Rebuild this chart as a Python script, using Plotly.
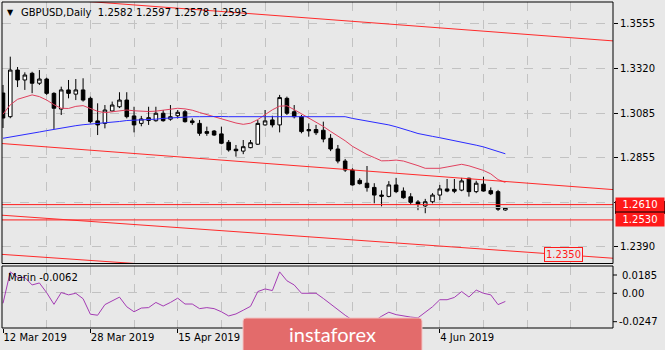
import plotly.graph_objects as go

# ---- data ---------------------------------------------------------------
dates = [
    "2019-03-12", "2019-03-13", "2019-03-14", "2019-03-15", "2019-03-18", "2019-03-19",
    "2019-03-20", "2019-03-21", "2019-03-22", "2019-03-25", "2019-03-26", "2019-03-27",
    "2019-03-28", "2019-03-29", "2019-04-01", "2019-04-02", "2019-04-03", "2019-04-04",
    "2019-04-05", "2019-04-08", "2019-04-09", "2019-04-10", "2019-04-11", "2019-04-12",
    "2019-04-15", "2019-04-16", "2019-04-17", "2019-04-18", "2019-04-19", "2019-04-22",
    "2019-04-23", "2019-04-24", "2019-04-25", "2019-04-26", "2019-04-29", "2019-04-30",
    "2019-05-01", "2019-05-02", "2019-05-03", "2019-05-06", "2019-05-07", "2019-05-08",
    "2019-05-09", "2019-05-10", "2019-05-13", "2019-05-14", "2019-05-15", "2019-05-16",
    "2019-05-17", "2019-05-20", "2019-05-21", "2019-05-22", "2019-05-23", "2019-05-24",
    "2019-05-27", "2019-05-28", "2019-05-29", "2019-05-30", "2019-05-31", "2019-06-03",
    "2019-06-04", "2019-06-05", "2019-06-06", "2019-06-07", "2019-06-10", "2019-06-11",
    "2019-06-12", "2019-06-13", "2019-06-14", "2019-06-17",
]

opens = [1.3194, 1.3070, 1.3314, 1.3262, 1.3297, 1.3245, 1.3267, 1.3192, 1.3110, 1.3210,
         1.3188, 1.3210, 1.3166, 1.3048, 1.3035, 1.3100, 1.3122, 1.3157, 1.3074, 1.3035,
         1.3050, 1.3049, 1.3088, 1.3057, 1.3075, 1.3096, 1.3048, 1.3035, 1.2992, 1.2995,
         1.2980, 1.2936, 1.2900, 1.2890, 1.2908, 1.2926, 1.3027, 1.3053, 1.3027, 1.3166,
         1.3096, 1.3070, 1.3003, 1.3003, 1.2999, 1.2957, 1.2901, 1.2838, 1.2791, 1.2737,
         1.2722, 1.2700, 1.2660, 1.2653, 1.2713, 1.2681, 1.2651, 1.2624, 1.2603, 1.2625,
         1.2660, 1.2692, 1.2690, 1.2686, 1.2748, 1.2678, 1.2717, 1.2683, 1.2678, 1.2582]
highs = [1.3236, 1.3384, 1.3330, 1.3302, 1.3305, 1.3314, 1.3274, 1.3198, 1.3227, 1.3262,
         1.3267, 1.3271, 1.3175, 1.3140, 1.3131, 1.3149, 1.3198, 1.3198, 1.3122, 1.3074,
         1.3122, 1.3122, 1.3105, 1.3131, 1.3105, 1.3105, 1.3061, 1.3053, 1.3018, 1.3000,
         1.3018, 1.2948, 1.2922, 1.2948, 1.2948, 1.3053, 1.3105, 1.3075, 1.3184, 1.3175,
         1.3131, 1.3079, 1.3035, 1.3027, 1.3044, 1.2979, 1.2922, 1.2849, 1.2800, 1.2748,
         1.2812, 1.2722, 1.2685, 1.2733, 1.2750, 1.2700, 1.2670, 1.2634, 1.2640, 1.2670,
         1.2713, 1.2744, 1.2744, 1.2750, 1.2751, 1.2735, 1.2756, 1.2700, 1.2687, 1.2597]
lows = [1.3011, 1.3062, 1.3225, 1.3210, 1.3193, 1.3236, 1.3184, 1.3006, 1.3079, 1.3166,
        1.3157, 1.3149, 1.3035, 1.2974, 1.3009, 1.3095, 1.3115, 1.3061, 1.2988, 1.3020,
        1.3027, 1.3044, 1.3044, 1.3049, 1.3061, 1.3039, 1.3027, 1.2970, 1.2970, 1.2970,
        1.2926, 1.2887, 1.2861, 1.2874, 1.2905, 1.2922, 1.3023, 1.3014, 1.2988, 1.3079,
        1.3061, 1.2983, 1.2966, 1.2974, 1.2936, 1.2890, 1.2826, 1.2781, 1.2710, 1.2715,
        1.2678, 1.2617, 1.2601, 1.2648, 1.2670, 1.2641, 1.2610, 1.2581, 1.2565, 1.2617,
        1.2634, 1.2675, 1.2670, 1.2680, 1.2652, 1.2670, 1.2678, 1.2660, 1.2577, 1.2578]
closes = [1.3063, 1.3314, 1.3262, 1.3288, 1.3245, 1.3267, 1.3192, 1.3114, 1.3210, 1.3192,
          1.3210, 1.3157, 1.3044, 1.3027, 1.3105, 1.3131, 1.3157, 1.3070, 1.3027, 1.3058,
          1.3065, 1.3088, 1.3049, 1.3070, 1.3093, 1.3044, 1.3039, 1.2983, 1.2983, 1.2974,
          1.2931, 1.2896, 1.2892, 1.2913, 1.2934, 1.3035, 1.3048, 1.3027, 1.3170, 1.3088,
          1.3070, 1.2992, 1.2996, 1.2986, 1.2953, 1.2901, 1.2838, 1.2791, 1.2713, 1.2720,
          1.2699, 1.2660, 1.2654, 1.2713, 1.2678, 1.2646, 1.2622, 1.2613, 1.2625, 1.2660,
          1.2692, 1.2681, 1.2680, 1.2734, 1.2678, 1.2722, 1.2681, 1.2667, 1.2586, 1.2595]

ma_fast = [1.3083, 1.3132, 1.3161, 1.3174, 1.3184, 1.3175, 1.3157, 1.3133, 1.3114, 1.3113,
           1.3124, 1.3128, 1.3115, 1.3098, 1.3091, 1.3095, 1.3101, 1.3105, 1.3101, 1.3099,
           1.3097, 1.3099, 1.3104, 1.3109, 1.3114, 1.3111, 1.3104, 1.3092, 1.3081, 1.3071,
           1.3057, 1.3046, 1.3037, 1.3030, 1.3036, 1.3055, 1.3081, 1.3106, 1.3125, 1.3127,
           1.3107, 1.3086, 1.3065, 1.3044, 1.3019, 1.2993, 1.2970, 1.2944, 1.2915, 1.2893,
           1.2872, 1.2856, 1.2839, 1.2840, 1.2843, 1.2838, 1.2828, 1.2814, 1.2800, 1.2800,
           1.2800, 1.2807, 1.2814, 1.2821, 1.2813, 1.2803, 1.2789, 1.2771, 1.2741, 1.2726]
ma_slow = [1.2957, 1.2963, 1.2970, 1.2976, 1.2983, 1.2990, 1.2997, 1.3004, 1.3010, 1.3017,
           1.3023, 1.3028, 1.3031, 1.3035, 1.3037, 1.3040, 1.3045, 1.3050, 1.3051, 1.3053,
           1.3055, 1.3057, 1.3061, 1.3064, 1.3067, 1.3069, 1.3070, 1.3070, 1.3071, 1.3071,
           1.3071, 1.3070, 1.3070, 1.3070, 1.3069, 1.3069, 1.3070, 1.3071, 1.3072, 1.3072,
           1.3071, 1.3071, 1.3070, 1.3070, 1.3070, 1.3070, 1.3071, 1.3070, 1.3061, 1.3054,
           1.3048, 1.3041, 1.3036, 1.3027, 1.3017, 1.3007, 1.2994, 1.2982, 1.2973, 1.2967,
           1.2960, 1.2953, 1.2945, 1.2938, 1.2929, 1.2921, 1.2912, 1.2901, 1.2889, 1.2876]

marin = [-0.0075, 0.0144, 0.0105, 0.0105, 0.0053, 0.0067, -0.0001, -0.0082, 0.0000, -0.0016,
         -0.0005, -0.0043, -0.0151, -0.0158, -0.0084, -0.0058, -0.0032, -0.0099, -0.0134, -0.0108,
         -0.0105, -0.0069, -0.0094, -0.0069, -0.0039, -0.0080, -0.0080, -0.0112, -0.0105, -0.0112,
         -0.0134, -0.0163, -0.0149, -0.0123, -0.0096, 0.0007, 0.0025, 0.0014, 0.0144, 0.0082,
         0.0053, -0.0005, -0.0005, -0.0005, -0.0041, -0.0079, -0.0123, -0.0158, -0.0192, -0.0219,
         -0.0226, -0.0199, -0.0165, -0.0137, -0.0154, -0.0165, -0.0171, -0.0176, -0.0137, -0.0099,
         -0.0050, -0.0050, -0.0034, 0.0007, -0.0031, 0.0017, -0.0005, -0.0016, -0.0084, -0.0062]

tick_dates = ["2019-03-12", "2019-03-28", "2019-04-15", "2019-06-04"]
tick_labels = ["12 Mar 2019", "28 Mar 2019", "15 Apr 2019", "4 Jun 2019"]
price_ticks = [1.3555, 1.3320, 1.3085, 1.2855, 1.2620, 1.2390]
price_tick_text = ["1.3555", "1.3320", "1.3085", "1.2855", "", "1.2390"]
marin_ticks = ["0.0185", "0.00", "-0.0247"]

levels = [1.2610, 1.2530]
bid = 1.2595
# trend lines: (start bar, start price, end bar, end price)
trend_lines = [
    (-1, 1.3709, 84, 1.3466),
    (-1, 1.2932, 84, 1.2688),
    (-1, 1.2557, 84, 1.2329),
    (-1, 1.2352, 30, 1.2271),
]
channel_label_bar = 77
channel_label_price = 1.2350

# ---- styling ------------------------------------------------------------
BG = "#e8e8e8"
GRID = "#c2c2c2"
FONT = "DejaVu Sans"
W, H = 665, 350
ML, MR, MT, MB = 2, 52, 2, 22
PW, PH = W - ML - MR, H - MT - MB
Y_RANGE = [1.2302, 1.3670]
MAIN_PX = 263.5 - 2  # pixel height of the price pane


def px_x(px):
    return (px - ML) / PW


def px_y(py):
    return (H - MB - py) / PH


main_dom = [px_y(263.5), 1.0]
ind_dom = [0.0, px_y(266)]
price_per_px = (Y_RANGE[1] - Y_RANGE[0]) / MAIN_PX

xs = list(range(len(dates)))
tickvals = [dates.index(d) for d in tick_dates]

fig = go.Figure()

# horizontal support levels and bid line
for lv in levels:
    fig.add_trace(go.Scatter(x=[-5, 90], y=[lv, lv], mode="lines",
                             line=dict(color="#ff1a1a", width=1),
                             hoverinfo="skip", showlegend=False))
fig.add_trace(go.Scatter(x=[-5, 90], y=[bid, bid], mode="lines",
                         line=dict(color="#bdbdbd", width=1),
                         hoverinfo="skip", showlegend=False))

# candles
fig.add_trace(go.Candlestick(
    x=xs, open=opens, high=highs, low=lows, close=closes,
    increasing=dict(line=dict(color="black", width=1), fillcolor="white"),
    decreasing=dict(line=dict(color="black", width=1), fillcolor="black"),
    whiskerwidth=0, showlegend=False, hoverinfo="skip"))

# moving averages
fig.add_trace(go.Scatter(x=xs, y=ma_fast, mode="lines",
                         line=dict(color="#e0405e", width=1),
                         hoverinfo="skip", showlegend=False))
fig.add_trace(go.Scatter(x=xs, y=ma_slow, mode="lines",
                         line=dict(color="#2a2aff", width=1),
                         hoverinfo="skip", showlegend=False))

# trend / channel lines
for x0, y0, x1, y1 in trend_lines:
    fig.add_trace(go.Scatter(x=[x0, x1], y=[y0, y1], mode="lines",
                             line=dict(color="#ff2a2a", width=1),
                             hoverinfo="skip", showlegend=False))

# Marin oscillator
fig.add_trace(go.Scatter(x=xs, y=marin, mode="lines", yaxis="y2",
                         line=dict(color="#a43cb4", width=1),
                         hoverinfo="skip", showlegend=False))

tickfont = dict(family=FONT, size=10, color="black")

fig.update_layout(
    width=W, height=H,
    margin=dict(l=ML, r=MR, t=MT, b=MB),
    paper_bgcolor=BG, plot_bgcolor=BG,
    showlegend=False,
    xaxis=dict(
        domain=[0, 1], anchor="y2", range=[-0.137, 83.79],
        tickmode="array", tickvals=tickvals, ticktext=tick_labels,
        ticks="outside", ticklen=4, tickcolor="black", tickwidth=1,
        ticklabelposition="outside right", tickfont=tickfont,
        showgrid=True, gridcolor=GRID, griddash="dash", gridwidth=1,
        minor=dict(dtick=6, tick0=0, showgrid=True, gridcolor=GRID,
                   griddash="dash", gridwidth=1, ticks=""),
        zeroline=False, showline=False,
        rangeslider=dict(visible=False),
    ),
    yaxis=dict(
        domain=main_dom, anchor="x", side="right",
        range=Y_RANGE,
        tickmode="array", tickvals=price_ticks, ticktext=price_tick_text,
        ticks="outside", ticklen=4, tickcolor="black", tickfont=tickfont,
        showgrid=True, gridcolor=GRID, griddash="dash", gridwidth=1,
        zeroline=False, showline=False,
    ),
    yaxis2=dict(
        domain=ind_dom, anchor="x", side="right",
        range=[-0.0247, 0.0185],
        tickmode="array", tickvals=[0], showticklabels=False, ticks="",
        showgrid=True, gridcolor=GRID, griddash="dash", gridwidth=1,
        zeroline=False, showline=False,
    ),
)

shapes = []
# pane frames
for y0, y1 in (main_dom, ind_dom):
    shapes.append(dict(type="rect", xref="paper", yref="paper",
                       x0=0, x1=1, y0=y0, y1=y1,
                       line=dict(color="black", width=1), layer="above"))
# oscillator scale tick marks
for py in (275, 293.3, 321.7):
    shapes.append(dict(type="line", xref="paper", yref="paper",
                       x0=1, x1=px_x(617), y0=px_y(py), y1=px_y(py),
                       line=dict(color="black", width=1), layer="above"))
# bid price tag on the scale (mostly hidden behind the level tags)
shapes.append(dict(type="rect", xref="paper", yref="y",
                   x0=px_x(615), x1=px_x(665),
                   y0=bid - 6.5 * price_per_px, y1=bid + 6.5 * price_per_px,
                   fillcolor="black", line=dict(width=0), layer="above"))
# logo badge (rounded rectangle)
lx0, lx1, ly0, ly1 = px_x(243), px_x(422), px_y(354), px_y(318)
rx, ry = 3 / PW, 3 / PH
path = (f"M{lx0 + rx},{ly1} L{lx1 - rx},{ly1} Q{lx1},{ly1} {lx1},{ly1 - ry} "
        f"L{lx1},{ly0 + ry} Q{lx1},{ly0} {lx1 - rx},{ly0} L{lx0 + rx},{ly0} "
        f"Q{lx0},{ly0} {lx0},{ly0 + ry} L{lx0},{ly1 - ry} Q{lx0},{ly1} {lx0 + rx},{ly1} Z")
shapes.append(dict(type="path", xref="paper", yref="paper", path=path,
                   fillcolor="#e36b6b", line=dict(color="#f3c4c4", width=1),
                   layer="above"))
fig.update_layout(shapes=shapes)

ann = []
# header
ann.append(dict(xref="paper", yref="paper", x=px_x(10.5), y=px_y(12),
                text="▼", showarrow=False, xanchor="center", yanchor="middle",
                font=dict(family=FONT, size=8, color="black")))
ann.append(dict(xref="paper", yref="paper", x=px_x(19), y=px_y(12),
                text=f"GBPUSD,Daily  {opens[-1]:.4f} {highs[-1]:.4f} {lows[-1]:.4f} {closes[-1]:.4f}",
                showarrow=False, xanchor="left", yanchor="middle",
                font=dict(family=FONT, size=10, color="black")))
# oscillator caption
ann.append(dict(xref="paper", yref="paper", x=px_x(6), y=px_y(277),
                text=f"Marin {marin[-1]:.4f}", showarrow=False,
                xanchor="left", yanchor="middle",
                font=dict(family=FONT, size=10, color="black")))
# oscillator scale labels
for txt, lx, py in zip(marin_ticks, (620, 620, 617), (275, 293.3, 321.7)):
    ann.append(dict(xref="paper", yref="paper", x=px_x(lx), y=px_y(py),
                    text=txt, showarrow=False, xanchor="left", yanchor="middle",
                    font=tickfont))
# level price tags
for lv in levels:
    ann.append(dict(xref="paper", yref="y", x=1, y=lv, xshift=2,
                    text=f"{lv:.4f}", showarrow=False, xanchor="left", yanchor="middle",
                    bgcolor="#ff1a1a", width=46, height=11, borderpad=1,
                    font=dict(family=FONT, size=10, color="white")))
# channel price label
ann.append(dict(xref="x", yref="y", x=channel_label_bar, y=channel_label_price,
                text=f"{channel_label_price:.4f}", showarrow=False,
                xanchor="center", yanchor="middle",
                bgcolor=BG, bordercolor="#ff1a1a", borderwidth=1, borderpad=1,
                font=dict(family=FONT, size=10, color="#ff1a1a")))
# logo text
ann.append(dict(xref="paper", yref="paper", x=px_x(332), y=px_y(334),
                text="instaforex", showarrow=False, xanchor="center", yanchor="middle",
                font=dict(family="Lato", size=20, color="white")))
fig.update_layout(annotations=ann)

fig.write_html("out.html")
